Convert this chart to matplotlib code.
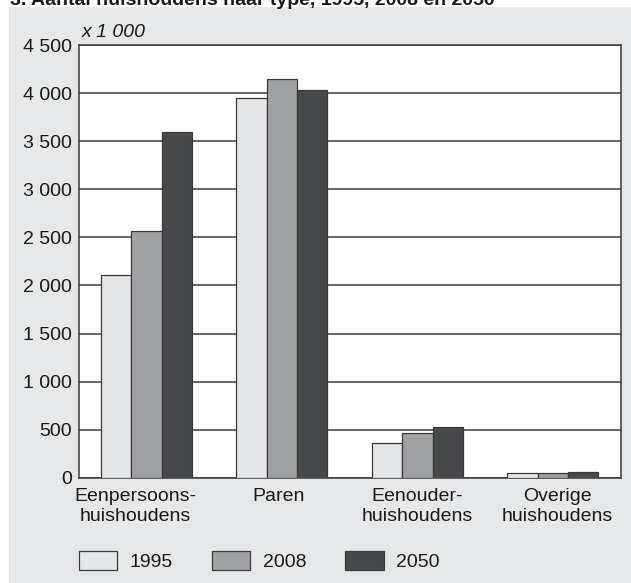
# Aantal huishoudens naar type, 1995, 2008 en 2050

import numpy as np
import matplotlib.pyplot as plt
from matplotlib.patches import Rectangle

plt.rcParams['font.family'] = ['Liberation Sans', 'DejaVu Sans']

# Data (x 1 000)
categories = ['Eenpersoons-\nhuishoudens', 'Paren', 'Eenouder-\nhuishoudens', 'Overige\nhuishoudens']
years = ['1995', '2008', '2050']
v1995 = [2110, 3950, 365, 46]
v2008 = [2570, 4150, 468, 46]
v2050 = [3600, 4035, 530, 58]
yticks = [0, 500, 1000, 1500, 2000, 2500, 3000, 3500, 4000, 4500]

colors = ['#e4e5e7', '#a0a1a3', '#48494b']
bg = '#e6e7e8'
dark = '#3a3a3a'
txt = '#1a1a1a'
fs = 14

fig = plt.figure(figsize=(6.31, 5.83), dpi=100, facecolor='white')

# grey panel behind the chart
fig.patches.append(Rectangle((9 / 631, 0), 1, 1 - 7 / 583, transform=fig.transFigure,
                             facecolor=bg, edgecolor='none', zorder=-10))
fig.text(10 / 631, 1 - 5 / 583, '3. Aantal huishoudens naar type, 1995, 2008 en 2050',
         fontsize=fs, weight='bold', va='baseline', ha='left', color=txt)

ax = fig.add_axes([78.7 / 631, 1 - 477.7 / 583, 542 / 631, (477.7 - 45.2) / 583])
ax.set_facecolor('white')

x = np.arange(len(categories))
w = 0.224
for i, vals in enumerate([v1995, v2008, v2050]):
    ax.bar(x + (i - 1) * w, vals, w, color=colors[i], edgecolor=dark, linewidth=0.9,
           label=years[i], zorder=3)

ax.set_xlim(-0.5, 3.5)
ax.set_ylim(0, 4500)
ax.set_yticks(yticks)
ax.set_yticklabels([f'{t:,}'.replace(',', ' ') for t in yticks], fontsize=fs)
# the labels in the original sit slightly wider apart than the bar groups
ax.set_xticks(x + np.array([-0.08, -0.025, 0.0, 0.03]))
ax.set_xticklabels(categories, fontsize=fs, linespacing=1.22)
ax.tick_params(axis='y', length=0, pad=5, colors=txt)
ax.tick_params(axis='x', length=0, pad=7.5, colors=txt)
ax.grid(axis='y', color=dark, linewidth=1.1, zorder=0)
for s in ax.spines.values():
    s.set_color(dark)
    s.set_linewidth(1.1)

fig.text(81.7 / 631, 1 - 37 / 583, 'x 1 000', fontsize=fs, style='italic',
         ha='left', va='baseline', color=txt)

fig.legend(loc='lower left', bbox_to_anchor=(79 / 631, 1 - 571 / 583), ncol=3, frameon=False,
           fontsize=fs, handlelength=1.97, handleheight=1.17, handletextpad=0.65,
           columnspacing=2.0, borderpad=0, borderaxespad=0, labelcolor=txt)

plt.savefig('out.png', dpi=100, facecolor='white')
